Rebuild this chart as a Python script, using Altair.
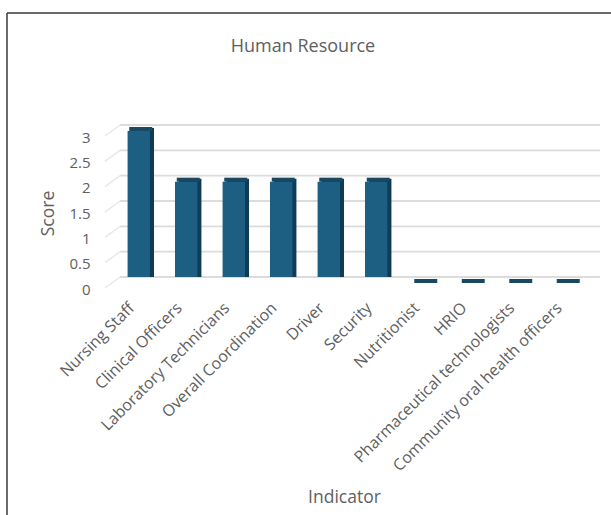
import altair as alt
import pandas as pd

# Staffing scores per human-resource indicator
indicators = [
    "Nursing Staff",
    "Clinical Officers",
    "Laboratory Technicians",
    "Overall Coordination",
    "Driver",
    "Security",
    "Nutritionist",
    "HRIO",
    "Pharmaceutical technologists",
    "Community oral health officers",
]
scores = [3, 2, 2, 2, 2, 2, 0, 0, 0, 0]
score_ticks = [0, 0.5, 1, 1.5, 2, 2.5, 3]

bars = pd.DataFrame({"Indicator": indicators, "Score": scores})
grid = pd.DataFrame({"v": score_ticks})

FONT = "Open Sans"
TEXT = "#606060"
FRONT = "#1c5f82"
SIDE = "#0f3b53"
TOP = "#184862"

W, H = 475, 152
LEFT, TOPPAD = 115, 125

x_scale = alt.Scale(domain=indicators, paddingInner=0, paddingOuter=0)
y_scale = alt.Scale(domain=[0, 3], nice=False)

x_axis = alt.Axis(
    title="Indicator", labelAngle=-45, labelAlign="right", labelBaseline="middle",
    labelPadding=28, labelOffset=-7, ticks=False, domain=False, grid=False,
    labelFont=FONT, labelFontSize=16, labelColor=TEXT, labelLimit=300,
    titleFont=FONT, titleFontSize=17.5, titleFontWeight="normal", titleColor=TEXT,
    titleX=229, titleY=220, titleAlign="center", titleBaseline="middle",
)
y_axis = alt.Axis(
    title="Score", values=score_ticks, format="~g", ticks=False, domain=False,
    grid=False, labelPadding=25, labelOffset=12, labelFont=FONT, labelFontSize=15,
    labelColor=TEXT, titleFont=FONT, titleFontSize=17.5, titleFontWeight="normal",
    titleColor=TEXT, titleX=-67, titleY=88, titleAngle=-90,
    titleAlign="center", titleBaseline="middle",
)

x_enc = alt.X("Indicator:N", sort=indicators, scale=x_scale, axis=x_axis)
y_enc = alt.Y("Score:Q", scale=y_scale, axis=y_axis)
y_grid = alt.Y("v:Q", scale=y_scale, axis=y_axis)

# frame around the whole figure
one = pd.DataFrame({"k": [0]})
frame_top = alt.Chart(one).mark_rule(color="#3a3a3a", strokeWidth=1.5).encode(
    x=alt.value(7 - LEFT), x2=alt.value(640 - LEFT),
    y=alt.value(13 - TOPPAD), y2=alt.value(13 - TOPPAD),
)
frame_left = alt.Chart(one).mark_rule(color="#3a3a3a", strokeWidth=1.5).encode(
    x=alt.value(7 - LEFT), x2=alt.value(7 - LEFT),
    y=alt.value(13 - TOPPAD), y2=alt.value(540 - TOPPAD),
)

# back-wall gridlines and their floor-perspective stubs
gridlines = alt.Chart(grid).mark_rule(color="#dcdcdc", strokeWidth=1.8).encode(
    y=y_grid, x=alt.value(5), x2=alt.value(485),
)
stubs = alt.Chart(grid).mark_rule(color="#e8e8e8", strokeWidth=1.5, yOffset=11, y2Offset=0).encode(
    y=y_grid, y2="v:Q", x=alt.value(-10), x2=alt.value(5),
)

side = alt.Chart(bars).mark_bar(
    color=SIDE, size=23, xOffset=4, yOffset=3, y2Offset=3, cornerRadiusTopRight=3
).encode(x=x_enc, y=y_enc)

front = alt.Chart(bars).mark_bar(
    color=FRONT, size=23, yOffset=6, y2Offset=6, cornerRadiusTopLeft=3
).encode(x=x_enc, y=y_enc)

top = alt.Chart(bars).mark_tick(
    color=TOP, opacity=1, size=23, thickness=4, xOffset=2, yOffset=4
).encode(x=x_enc, y=y_enc)

title = alt.Chart(pd.DataFrame({"t": ["Human Resource"]})).mark_text(
    font=FONT, fontSize=18, color=TEXT, align="center", baseline="middle"
).encode(text="t:N", x=alt.value(303 - LEFT), y=alt.value(47 - TOPPAD))

chart = (
    alt.layer(frame_top, frame_left, gridlines, stubs, side, front, top, title)
    .properties(
        width=W, height=H,
        autosize=alt.AutoSizeParams(type="none"),
        padding={"left": LEFT, "top": TOPPAD, "right": 611 - LEFT - W, "bottom": 515 - TOPPAD - H},
        background="white",
    )
    .configure_view(stroke=None)
)

chart.save("out.html", embed_options={"renderer": "svg", "actions": False})
